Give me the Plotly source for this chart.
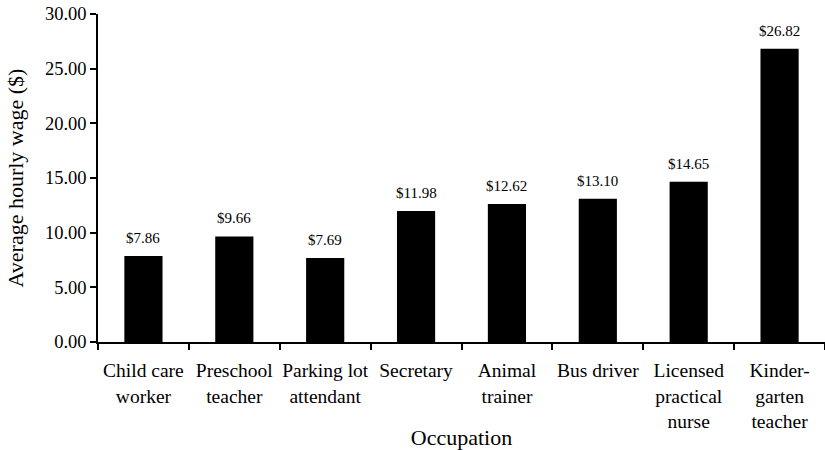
import plotly.graph_objects as go

categories = ["Child care<br>worker", "Preschool<br>teacher", "Parking lot<br>attendant",
              "Secretary", "Animal<br>trainer", "Bus driver",
              "Licensed<br>practical<br>nurse", "Kinder-<br>garten<br>teacher"]
wages = [7.86, 9.66, 7.69, 11.98, 12.62, 13.10, 14.65, 26.82]
y_ticks = [0, 5, 10, 15, 20, 25, 30]

FONT = "Liberation Serif"

fig = go.Figure(go.Bar(x=categories, y=wages, marker=dict(color="black", line=dict(width=0))))

for c, v in zip(categories, wages):
    fig.add_annotation(x=c, y=v, text=f"${v:.2f}", showarrow=False, yanchor="bottom",
                       yshift=8, font=dict(family=FONT, size=15, color="black"))

fig.update_layout(
    width=825, height=450,
    margin=dict(l=98, r=0, t=14, b=108, autoexpand=False),
    paper_bgcolor="white", plot_bgcolor="white",
    bargap=0.58,
    showlegend=False,
    font=dict(family=FONT, color="black"),
)
fig.update_xaxes(
    showline=True, linecolor="black", linewidth=1.5,
    ticks="outside", ticklen=6, tickwidth=1.5, tickcolor="black",
    tickson="boundaries", showgrid=False, automargin=False,
    tickfont=dict(family=FONT, size=19.5, color="black"),
    ticklabelstandoff=10, ticklabeloverflow="allow",
    title=dict(text="Occupation", font=dict(family=FONT, size=22, color="black"), standoff=16),
    tickangle=0,
)
fig.update_yaxes(
    range=[0, 30], tickvals=y_ticks, tickformat=".2f",
    showline=True, linecolor="black", linewidth=1.5,
    ticks="outside", ticklen=6, tickwidth=1.5, tickcolor="black",
    showgrid=False, zeroline=False, automargin=False,
    ticklabeloverflow="allow",
    tickfont=dict(family=FONT, size=18.5, color="black"),
    title=dict(text="Average hourly wage ($)", font=dict(family=FONT, size=22, color="black"), standoff=15),
)

# remove the page's default body margin so the figure fills the window exactly
fig.write_html("out.html",
               config={"displayModeBar": False},
               post_script="document.body.style.margin='0px';document.body.style.overflow='hidden';")
